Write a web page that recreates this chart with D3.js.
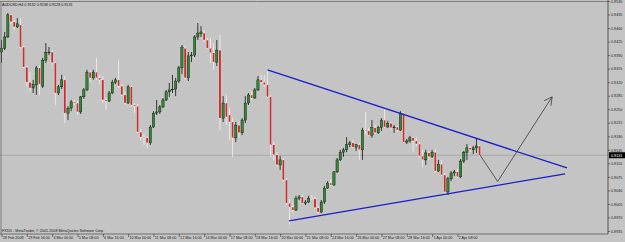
<!DOCTYPE html>
<html><head><meta charset="utf-8">
<script src="https://cdn.jsdelivr.net/npm/d3@7"></script>
<style>html,body{margin:0;padding:0;background:#c4c4c4;overflow:hidden}svg{display:block}</style>
</head><body><svg id="c" width="625" height="242"></svg>
<script>
const titleText = "AUDUSD,H4  0.9132 0.9138 0.9128 0.9131";
const copyrightText = "FXDD - MetaTrader, \u00A9 2001-2008 MetaQuotes Software Corp.";

const openP = [.9398,.9408,.9437,.9494,.9476,.9463,.9468,.9411,.9359,.9320,.9305,.9313,.9357,.9310,.9377,.9396,.9398,.9370,.9292,.9308,
.9326,.9240,.9253,.9269,.9266,.9243,.9282,.9300,.9346,.9331,.9346,.9331,.9326,.9274,.9271,.9292,.9320,.9326,.9310,.9287,
.9266,.9308,.9261,.9258,.9191,.9178,.9176,.9163,.9204,.9240,.9243,.9256,.9274,.9295,.9300,.9302,.9323,.9357,.9408,.9331,
.9388,.9390,.9437,.9445,.9447,.9429,.9408,.9396,.9372,.9403,.9227,.9266,.9235,.9217,.9176,.9209,.9189,.9222,.9266,.9287,
.9279,.9300,.9326,.9320,.9313,.9282,.9158,.9132,.9106,.9119,.9067,.9007,.8997,.8989,.9020,.9023,.9007,.9010,.9020,.9018,
.8995,.8984,.9010,.9046,.9059,.9054,.9088,.9119,.9139,.9145,.9158,.9163,.9152,.9158,.9145,.9196,.9194,.9183,.9202,.9189,
.9202,.9222,.9204,.9214,.9202,.9204,.9196,.9240,.9165,.9168,.9176,.9168,.9160,.9129,.9119,.9137,.9127,.9139,.9090,.9108,
.9080,.9036,.9070,.9085,.9088,.9075,.9116,.9139,.9150,.9145,.9150,.9155];
const highP = [.9429,.9450,.9499,.9496,.9481,.9486,.9486,.9414,.9362,.9346,.9326,.9362,.9362,.9383,.9421,.9411,.9403,.9372,.9313,.9339,
.9336,.9258,.9274,.9274,.9271,.9284,.9305,.9352,.9352,.9352,.9383,.9339,.9336,.9279,.9297,.9326,.9331,.9377,.9315,.9295,
.9313,.9310,.9266,.9264,.9199,.9186,.9181,.9209,.9245,.9274,.9261,.9279,.9300,.9318,.9339,.9331,.9362,.9416,.9414,.9398,
.9398,.9442,.9473,.9465,.9455,.9434,.9434,.9421,.9429,.9442,.9284,.9287,.9253,.9227,.9217,.9217,.9227,.9284,.9292,.9295,
.9305,.9336,.9339,.9339,.9352,.9287,.9165,.9139,.9129,.9124,.9072,.9018,.9005,.9026,.9028,.9028,.9015,.9026,.9028,.9023,
.9000,.9015,.9052,.9064,.9070,.9090,.9124,.9145,.9150,.9178,.9168,.9170,.9160,.9163,.9202,.9243,.9202,.9222,.9209,.9207,
.9227,.9253,.9220,.9217,.9209,.9207,.9245,.9243,.9173,.9181,.9178,.9178,.9165,.9145,.9145,.9142,.9145,.9147,.9119,.9119,
.9085,.9075,.9090,.9093,.9095,.9121,.9142,.9160,.9155,.9155,.9176,.9158];
const lowP = [.9370,.9403,.9434,.9471,.9455,.9460,.9406,.9357,.9308,.9295,.9292,.9287,.9287,.9305,.9370,.9390,.9365,.9261,.9287,.9302,
.9214,.9222,.9245,.9261,.9235,.9238,.9277,.9297,.9320,.9326,.9326,.9315,.9266,.9248,.9269,.9289,.9315,.9305,.9284,.9261,
.9264,.9256,.9240,.9189,.9170,.9158,.9150,.9158,.9202,.9235,.9238,.9253,.9271,.9282,.9292,.9284,.9318,.9341,.9326,.9323,
.9372,.9385,.9429,.9437,.9424,.9406,.9370,.9352,.9362,.9196,.9217,.9209,.9170,.9127,.9165,.9176,.9183,.9214,.9261,.9274,
.9277,.9297,.9315,.9308,.9279,.9127,.9119,.9101,.9093,.9062,.9002,.8951,.8982,.8987,.9015,.9005,.9002,.9007,.9015,.8992,
.8979,.8982,.9005,.9044,.9052,.9052,.9085,.9116,.9127,.9139,.9152,.9150,.9142,.9119,.9119,.9183,.9181,.9176,.9186,.9186,
.9194,.9202,.9202,.9196,.9189,.9191,.9194,.9163,.9160,.9163,.9139,.9155,.9124,.9101,.9106,.9119,.9124,.9085,.9088,.9077,
.9028,.9028,.9064,.9077,.9072,.9072,.9111,.9119,.9139,.9134,.9137,.9127];
const closeP = [.9408,.9437,.9494,.9476,.9463,.9471,.9411,.9359,.9320,.9305,.9315,.9357,.9315,.9377,.9396,.9398,.9370,.9292,.9308,.9326,
.9240,.9253,.9269,.9266,.9243,.9282,.9300,.9346,.9331,.9346,.9331,.9326,.9274,.9271,.9292,.9320,.9326,.9310,.9287,.9266,
.9308,.9261,.9258,.9191,.9178,.9176,.9163,.9204,.9240,.9243,.9256,.9274,.9295,.9300,.9302,.9323,.9357,.9411,.9331,.9388,
.9390,.9437,.9447,.9450,.9429,.9408,.9396,.9372,.9403,.9227,.9266,.9230,.9217,.9176,.9209,.9189,.9222,.9266,.9287,.9279,
.9300,.9326,.9320,.9313,.9282,.9158,.9132,.9106,.9119,.9067,.9007,.8997,.8989,.9020,.9023,.9007,.9010,.9020,.9018,.8995,
.8984,.9010,.9046,.9059,.9054,.9088,.9119,.9139,.9145,.9158,.9163,.9152,.9158,.9145,.9196,.9194,.9183,.9202,.9189,.9202,
.9222,.9204,.9214,.9202,.9204,.9196,.9240,.9165,.9168,.9176,.9168,.9160,.9129,.9119,.9137,.9127,.9139,.9090,.9108,.9080,
.9036,.9070,.9085,.9088,.9075,.9116,.9139,.9150,.9145,.9150,.9155,.9131];

const timeLabels = ["28 Feb 2008","29 Feb 16:00","4 Mar 00:00","5 Mar 08:00","6 Mar 16:00","10 Mar 00:00","11 Mar 08:00",
"12 Mar 16:00","14 Mar 00:00","17 Mar 08:00","18 Mar 16:00","20 Mar 00:00","21 Mar 08:00","24 Mar 16:00","26 Mar 00:00",
"27 Mar 08:00","28 Mar 16:00","1 Apr 00:00","2 Apr 08:00"];
const barsPerTimeLabel = 8;
const priceTicks = [0.9530,0.9495,0.9460,0.9425,0.9390,0.9355,0.9320,0.9285,0.9250,0.9215,0.9180,0.9145,0.9110,0.9075,0.9040,0.9005,0.8970,0.8935];
const bidPrice = 0.9131;

// annotations, in (bar index, price)
const upperTrend = [[84, 0.9352], [178.6, 0.9098]];
const lowerTrend = [[90.8, 0.8961], [178, 0.9083]];
const arrowPts = [[151.1, 0.9132], [156.7, 0.9063], [173.9, 0.9282]];

const plotRight = 608, plotTop = 1.5, plotBottom = 234;
const FONT = "'Liberation Sans', Arial, sans-serif";
const FS = 3.7;

const svg = d3.select("#c");
svg.append("rect").attr("width",625).attr("height",242).attr("fill","#c4c4c4");

const x = d3.scaleLinear().domain([0, 151]).range([1.5, 479.6]);
const y = d3.scaleLinear().domain([0.8935, 0.9530]).range([231, 1]);

// bid line
svg.append("line").attr("x1",0).attr("x2",plotRight).attr("y1",y(bidPrice)).attr("y2",y(bidPrice))
  .attr("stroke","#a2a2a2").attr("stroke-width",0.8);

// candles
const bars = openP.map((o,i)=>({i, o, h:highP[i], l:lowP[i], c:closeP[i]}));
const g = svg.append("g");
const bw = 2.3;
bars.forEach(b=>{
  const up = b.c >= b.o;
  const line = up ? "#111" : "#f2f2f2";
  const fill = up ? "#2f8a2f" : "#c53030";
  const cx = x(b.i);
  g.append("line").attr("x1",cx).attr("x2",cx).attr("y1",y(b.h)).attr("y2",y(b.l))
    .attr("stroke",line).attr("stroke-width",0.8);
  const top = y(Math.max(b.o,b.c)), bot = y(Math.min(b.o,b.c));
  g.append("rect").attr("x",cx-bw/2).attr("y",top).attr("width",bw).attr("height",Math.max(0.8,bot-top))
    .attr("fill",fill).attr("stroke",line).attr("stroke-width",0.4);
});

// trendlines
const lineGen = d3.line().x(d=>x(d[0])).y(d=>y(d[1]));
[upperTrend, lowerTrend].forEach(t=>{
  svg.append("path").attr("d",lineGen(t)).attr("fill","none").attr("stroke","#1c1ccc").attr("stroke-width",1.3);
});
// arrow
svg.append("path").attr("d",lineGen(arrowPts)).attr("fill","none").attr("stroke","#3a3a3a").attr("stroke-width",0.8);
{
  const tip = [x(arrowPts[2][0]), y(arrowPts[2][1])];
  const prev = [x(arrowPts[1][0]), y(arrowPts[1][1])];
  const ang = Math.atan2(prev[1]-tip[1], prev[0]-tip[0]);
  const L = 9;
  const pts = [[tip[0]+L*Math.cos(ang+0.55), tip[1]+L*Math.sin(ang+0.55)], tip, [tip[0]+L*Math.cos(ang-0.45), tip[1]+L*Math.sin(ang-0.45)]];
  svg.append("path").attr("d",d3.line()(pts)).attr("fill","none").attr("stroke","#3a3a3a").attr("stroke-width",0.8);
}

// frame
svg.append("line").attr("x1",0).attr("x2",plotRight).attr("y1",plotTop).attr("y2",plotTop).attr("stroke","#6a6a6a").attr("stroke-width",0.8);
svg.append("line").attr("x1",1).attr("x2",1).attr("y1",plotTop).attr("y2",plotBottom).attr("stroke","#6a6a6a").attr("stroke-width",0.8);
svg.append("line").attr("x1",0).attr("x2",plotRight).attr("y1",plotBottom).attr("y2",plotBottom).attr("stroke","#5a5a5a").attr("stroke-width",0.8);
svg.append("line").attr("x1",plotRight).attr("x2",plotRight).attr("y1",0).attr("y2",plotBottom).attr("stroke","#3a3a3a").attr("stroke-width",0.8);

// right price axis
const ya = d3.axisRight(y).tickValues(priceTicks).tickFormat(d3.format(".4f")).tickSize(2).tickPadding(1);
const yg = svg.append("g").attr("transform",`translate(${plotRight},0)`).call(ya);
yg.select(".domain").remove();
yg.selectAll("line").attr("stroke","#333").attr("stroke-width",0.6);
yg.selectAll("text").attr("font-family",FONT).attr("font-size",FS).attr("fill","#222");

// bid label
const by = y(bidPrice);
svg.append("rect").attr("x",609).attr("y",by-3).attr("width",16).attr("height",6).attr("fill","#000");
svg.append("text").attr("x",611).attr("y",by).attr("dy","0.35em").attr("font-family",FONT).attr("font-size",FS)
  .attr("fill","#fff").text(d3.format(".4f")(bidPrice));

// bottom time axis
const tIdx = timeLabels.map((d,k)=>k*barsPerTimeLabel);
const xa = d3.axisBottom(x).tickValues(tIdx).tickFormat((d,k)=>timeLabels[k]).tickSize(3).tickPadding(0.5);
const xg = svg.append("g").attr("transform",`translate(0,${plotBottom})`).call(xa);
xg.select(".domain").remove();
xg.selectAll("line").attr("stroke","#333").attr("stroke-width",0.6);
xg.selectAll("text").attr("font-family",FONT).attr("font-size",FS).attr("fill","#222")
  .attr("text-anchor","start").attr("dx",0.8).attr("dy","0.3em");

// texts
svg.append("text").attr("x",2).attr("y",5.6).attr("font-family",FONT).attr("font-size",FS).attr("fill","#111").text(titleText);
svg.append("text").attr("x",2).attr("y",232.4).attr("font-family",FONT).attr("font-size",FS).attr("fill","#111").text(copyrightText);
</script></body></html>
